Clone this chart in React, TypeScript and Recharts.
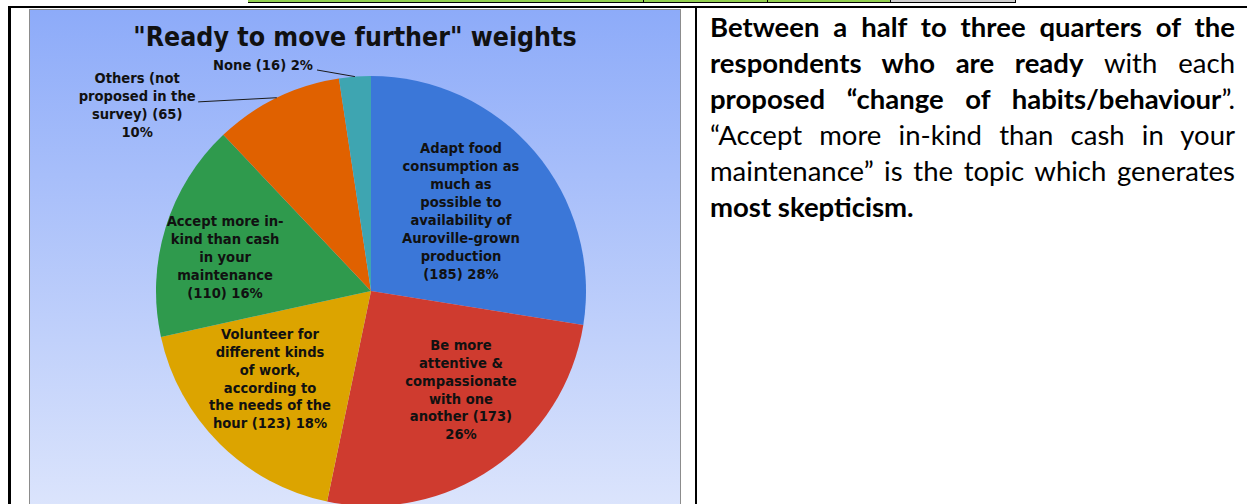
import { Cell, Pie, PieChart } from 'recharts';

const categories = [
  'Adapt food consumption as much as possible to availability of Auroville-grown production',
  'Be more attentive & compassionate with one another',
  'Volunteer for different kinds of work, according to the needs of the hour',
  'Accept more in-kind than cash in your maintenance',
  'Others (not proposed in the survey)',
  'None',
];
const counts = [185, 173, 123, 110, 65, 16];
const percentLabels = ['28%', '26%', '18%', '16%', '10%', '2%'];

// label text as wrapped in the picture, {v} = count, {p} = percent
const labelLines = [
  ['Adapt food', 'consumption as', 'much as', 'possible to', 'availability of', 'Auroville-grown', 'production', '({v}) {p}'],
  ['Be more', 'attentive &', 'compassionate', 'with one', 'another ({v})', '{p}'],
  ['Volunteer for', 'different kinds', 'of work,', 'according to', 'the needs of the', 'hour ({v}) {p}'],
  ['Accept more in-', 'kind than cash', 'in your', 'maintenance', '({v})  {p}'],
  ['Others (not', 'proposed in the', 'survey) ({v})', '{p}'],
  ['None ({v}) {p}'],
];

const sliceColors = ['#3b77d8', '#cf3b2f', '#dca400', '#2f9a4d', '#e06100', '#3ea5b1'];

// where each label sits: share of the outer radius, shift from the slice middle (deg),
// and for outside labels the end of the leader line relative to the label centre
const labelPlace: { r: number; shift: number; lead?: [number, number] }[] = [
  { r: 0.561, shift: 1.3 },
  { r: 0.62, shift: 7.9 },
  { r: 0.621, shift: -4.4 },
  { r: 0.697, shift: 4.0 },
  { r: 1.39, shift: 25.5, lead: [61, -3] },
  { r: 1.165, shift: 21.25, lead: [54, 5] },
];

const pieData = categories.map((name, i) => ({ name, value: counts[i] }));

const RAD = Math.PI / 180;
const LINE_H = 17.9;
const LABEL_FONT = "'DejaVu Sans Condensed', 'DejaVu Sans', sans-serif";

const renderLabel = (props: any) => {
  const { cx, cy, midAngle, outerRadius, index } = props;
  const place = labelPlace[index];
  const a = (midAngle + place.shift) * RAD;
  const x = cx + outerRadius * place.r * Math.cos(a);
  const y = cy - outerRadius * place.r * Math.sin(a);
  const lines = labelLines[index].map((s) =>
    s.replace('{v}', String(counts[index])).replace('{p}', percentLabels[index])
  );
  const y0 = y - ((lines.length - 1) / 2) * LINE_H;
  let leader = null;
  if (place.lead) {
    const ax = cx + outerRadius * Math.cos(midAngle * RAD);
    const ay = cy - outerRadius * Math.sin(midAngle * RAD);
    leader = (
      <line x1={x + place.lead[0]} y1={y + place.lead[1]} x2={ax} y2={ay} stroke="#1a1a1a" strokeWidth={1} />
    );
  }
  return (
    <g key={`lbl-${index}`}>
      {leader}
      <text
        textAnchor="middle"
        fontFamily={LABEL_FONT}
        fontStretch="condensed"
        fontWeight="bold"
        fontSize={14.6}
        fill="#111"
      >
        {lines.map((l, i) => (
          <tspan key={i} x={x} y={y0 + i * LINE_H + 5.2}>
            {l}
          </tspan>
        ))}
      </text>
    </g>
  );
};

const textLine = (content: any, last = false) => ({
  textAlign: (last ? 'left' : 'justify') as any,
  textAlignLast: (last ? 'left' : 'justify') as any,
  content,
});

const App = () => {
  const rows = [
    textLine(<b>Between a half to three quarters of the</b>),
    textLine(
      <>
        <b>respondents who are ready</b> with each
      </>
    ),
    textLine(
      <>
        <b>proposed “change of habits/behaviour</b>”.
      </>
    ),
    textLine(<>“Accept more in-kind than cash in your</>),
    textLine(<>maintenance” is the topic which generates</>),
    textLine(<b>most skepticism.</b>, true),
  ];

  return (
    <div
      style={{
        position: 'absolute',
        left: 0,
        top: 0,
        width: 1247,
        height: 504,
        overflow: 'hidden',
        background: '#fff',
      }}
    >
      {/* bit of the table row above */}
      <div style={{ position: 'absolute', left: 248, top: 0, width: 642, height: 2, background: '#92d050' }} />
      <div style={{ position: 'absolute', left: 890, top: 0, width: 125, height: 2, background: '#d0d0d0' }} />
      <div style={{ position: 'absolute', left: 248, top: 2, width: 768, height: 1, background: '#000' }} />
      {[643, 767, 890, 1015].map((x) => (
        <div key={x} style={{ position: 'absolute', left: x, top: 0, width: 1, height: 3, background: '#000' }} />
      ))}

      {/* frame */}
      <div style={{ position: 'absolute', left: 8, top: 6, width: 1239, height: 2, background: '#000' }} />
      <div style={{ position: 'absolute', left: 8, top: 6, width: 3, height: 498, background: '#000' }} />
      <div style={{ position: 'absolute', left: 695, top: 6, width: 2, height: 498, background: '#000' }} />

      {/* chart box */}
      <div
        style={{
          position: 'absolute',
          left: 29,
          top: 9,
          width: 652,
          height: 497,
          boxSizing: 'border-box',
          border: '1px solid #8c8c8c',
          background: 'linear-gradient(to bottom, #8dabf9 0%, #dbe4fc 100%)',
          overflow: 'hidden',
        }}
      >
        <div
          style={{
            position: 'absolute',
            left: 0,
            top: 13,
            width: '100%',
            textAlign: 'center',
            fontFamily: LABEL_FONT,
            fontStretch: 'condensed',
            fontWeight: 'bold',
            fontSize: 26.5,
            lineHeight: '27px',
            color: '#111',
            whiteSpace: 'nowrap',
          }}
        >
          "Ready to move further" weights
        </div>
        <div style={{ position: 'absolute', left: -1, top: -1 }}>
          <PieChart width={652} height={497} margin={{ top: 0, right: 0, bottom: 0, left: 0 }}>
            <Pie
              data={pieData}
              dataKey="value"
              nameKey="name"
              cx={342}
              cy={282}
              outerRadius={215}
              startAngle={90}
              endAngle={-270}
              stroke="none"
              isAnimationActive={false}
              label={renderLabel}
              labelLine={false}
            >
              {pieData.map((d, i) => (
                <Cell key={d.name} fill={sliceColors[i]} />
              ))}
            </Pie>
          </PieChart>
        </div>
      </div>

      {/* commentary */}
      <div
        style={{
          position: 'absolute',
          left: 710,
          top: 9,
          width: 525,
          fontFamily: "Lato, 'Open Sans', sans-serif",
          fontSize: 27.5,
          color: '#000',
        }}
      >
        {rows.map((r, i) => (
          <div
            key={i}
            style={{
              height: 36,
              lineHeight: '36px',
              whiteSpace: 'nowrap',
              textAlign: r.textAlign,
              textAlignLast: r.textAlignLast,
            }}
          >
            {r.content}
          </div>
        ))}
      </div>
    </div>
  );
};

export default App;
